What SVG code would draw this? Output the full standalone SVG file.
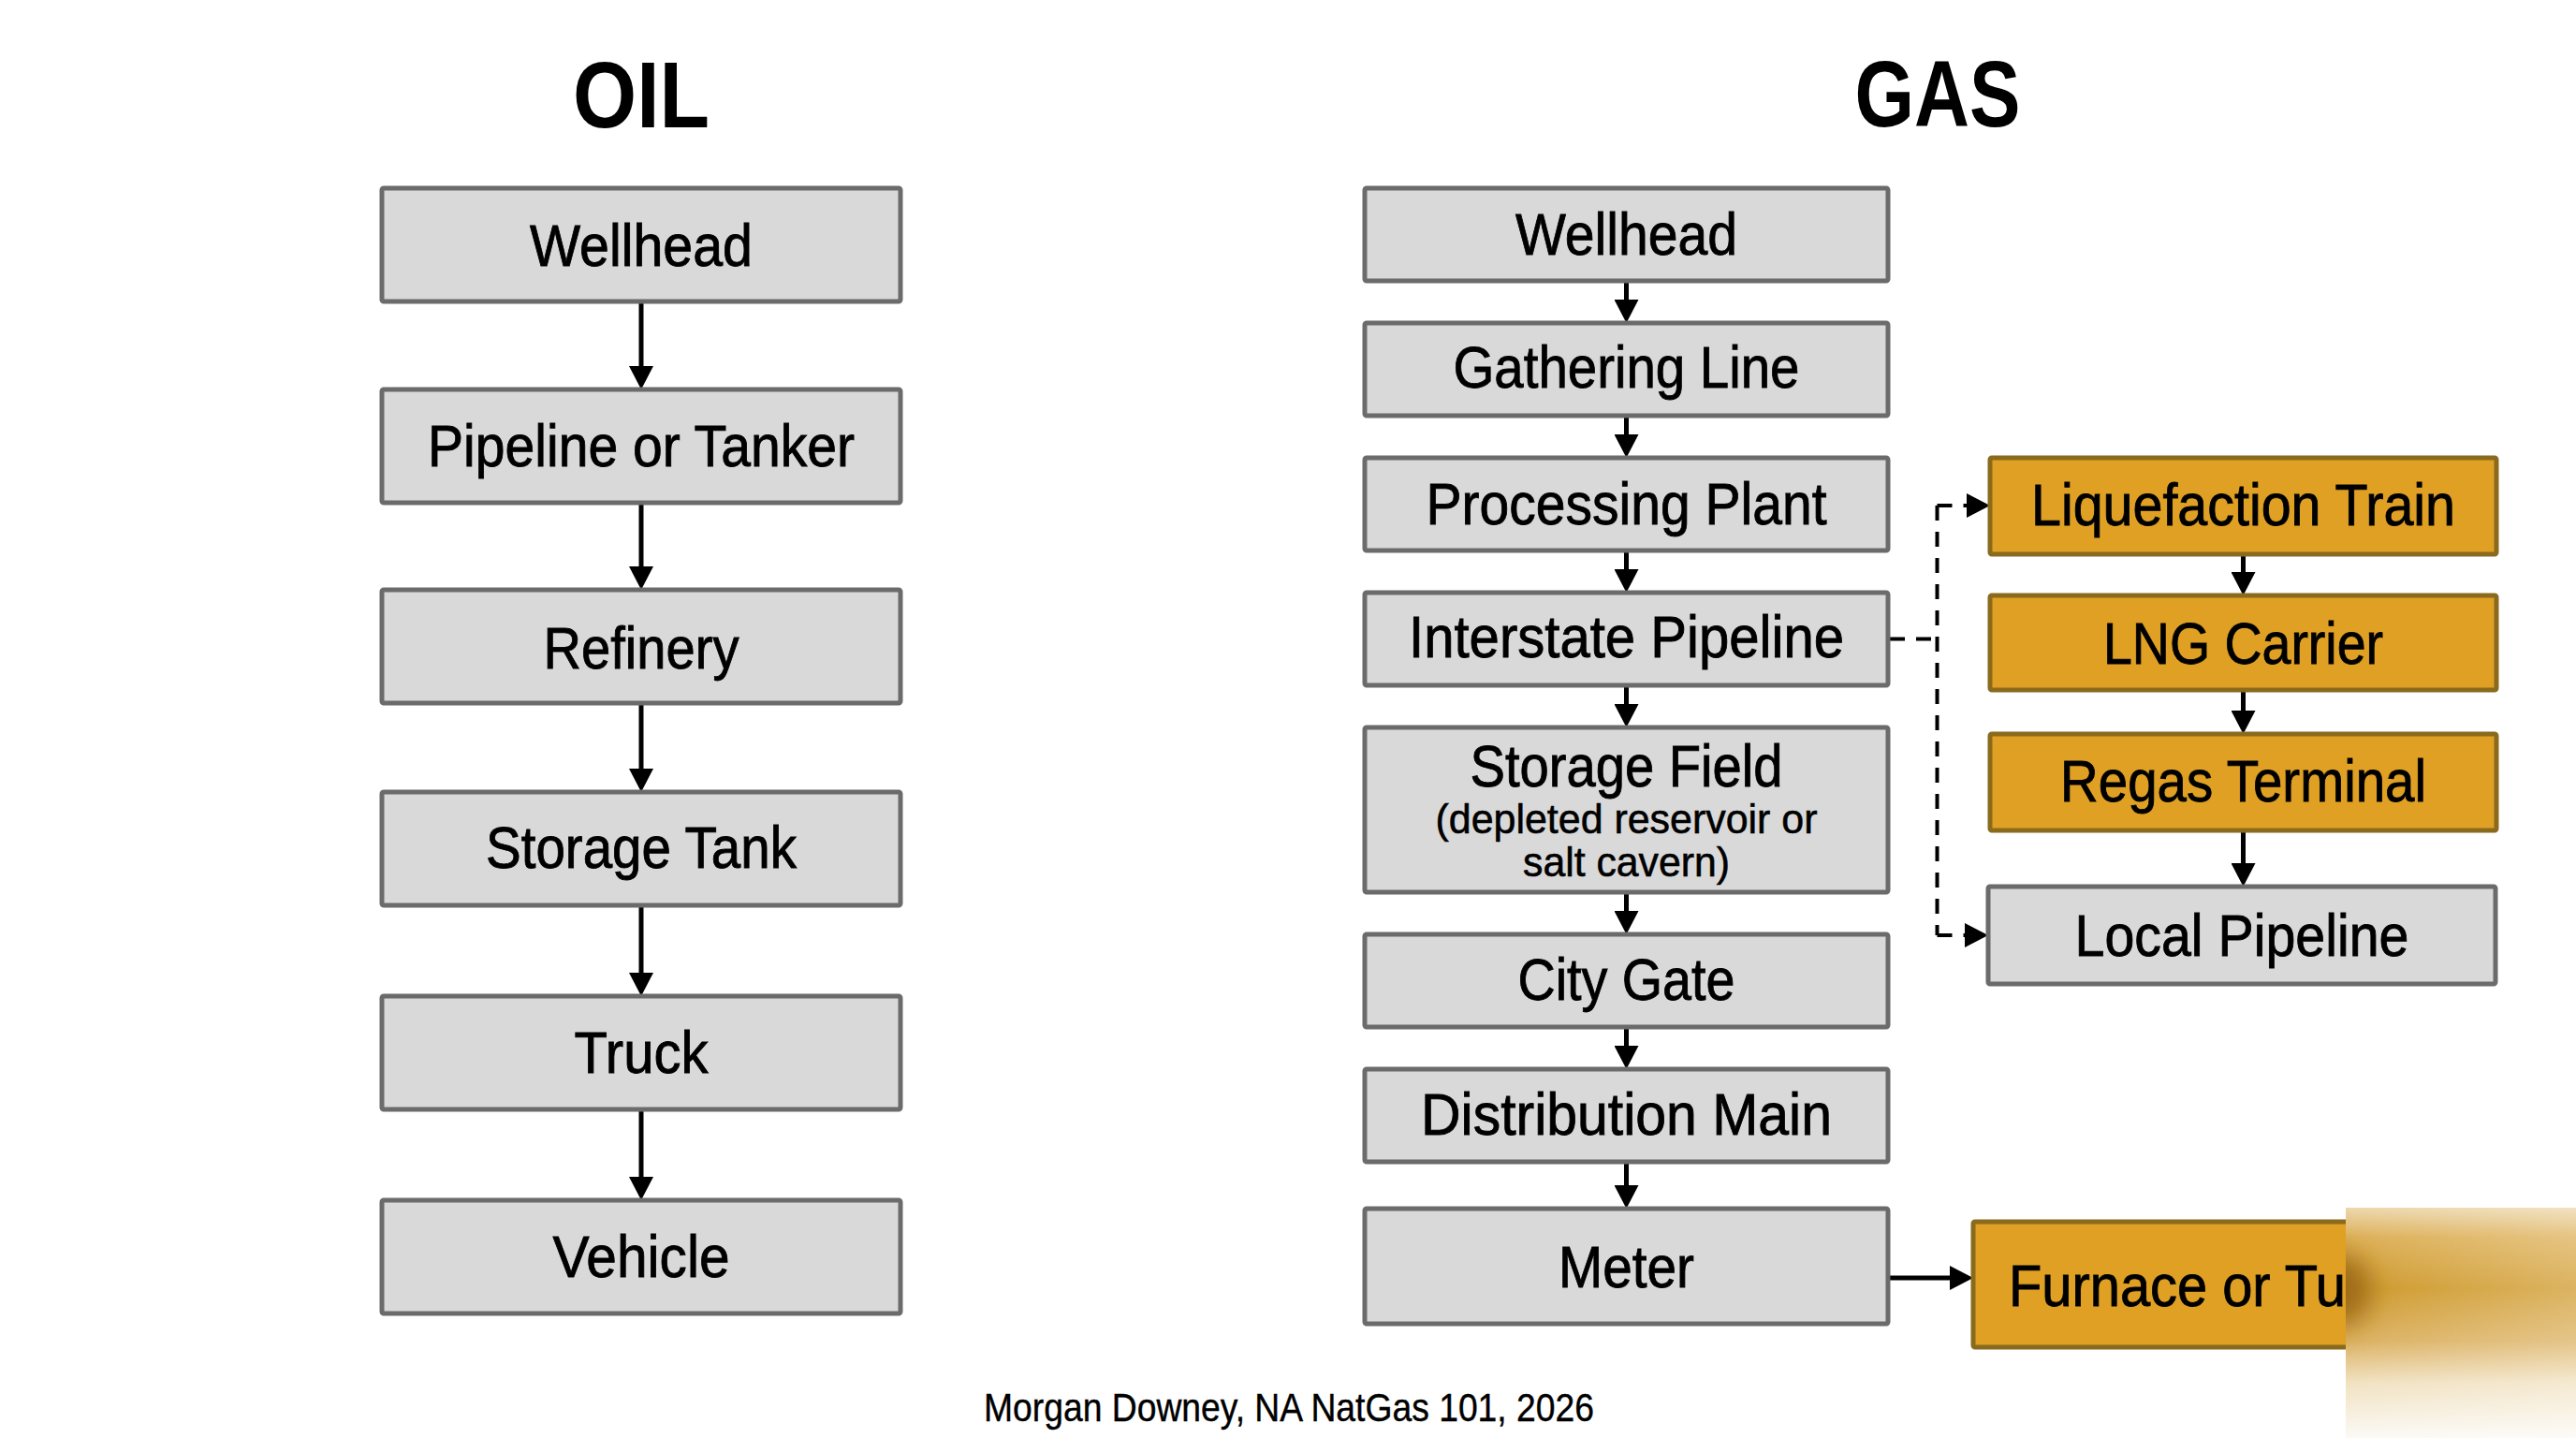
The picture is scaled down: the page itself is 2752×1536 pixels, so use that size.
<svg xmlns="http://www.w3.org/2000/svg" width="2752" height="1536" viewBox="0 0 2752 1536">
<style>
.box{fill:#D9D9D9;stroke:#6B6B6B;stroke-width:5}
.gold{fill:#DFA024;stroke:#8A6A1C;stroke-width:5}
.lbl{font-family:"Liberation Sans",Arial,sans-serif;font-size:63px;fill:#000;stroke:#000;stroke-width:0.9;text-anchor:middle}
.sub{font-size:44px;stroke-width:0.6}
.title{font-family:"Liberation Sans",Arial,sans-serif;font-weight:bold;font-size:101px;fill:#000;text-anchor:middle}
.foot{font-family:"Liberation Sans",Arial,sans-serif;font-size:42px;fill:#000;stroke:#000;stroke-width:0.4}
.arr{stroke:#000;stroke-width:5;fill:none;marker-end:url(#ah)}
.dash{stroke:#000;stroke-width:4;fill:none;stroke-dasharray:16 12}
</style>
<defs>
<marker id="ah" viewBox="0 0 25 26" refX="2" refY="13" markerWidth="25" markerHeight="26" markerUnits="userSpaceOnUse" orient="auto"><path d="M0,0 L25,13 L0,26 Z" fill="#000"/></marker>
<clipPath id="smclip"><rect x="2506" y="1290" width="246" height="246"/></clipPath>
<linearGradient id="smv" x1="0" y1="1290" x2="0" y2="1536" gradientUnits="userSpaceOnUse">
<stop offset="0" stop-color="#EDD8AE"/>
<stop offset="0.13" stop-color="#DDB058"/>
<stop offset="0.35" stop-color="#CF9A2C"/>
<stop offset="0.58" stop-color="#DCB263"/>
<stop offset="0.76" stop-color="#F1E2C2"/>
<stop offset="1" stop-color="#FCFAF6"/>
</linearGradient>
<linearGradient id="smh" x1="2506" y1="0" x2="2752" y2="0" gradientUnits="userSpaceOnUse">
<stop offset="0" stop-color="#FFFFFF" stop-opacity="0"/>
<stop offset="1" stop-color="#FFFFFF" stop-opacity="0.25"/>
</linearGradient>
<filter id="bl2" x="-100%" y="-100%" width="300%" height="300%"><feGaussianBlur stdDeviation="14"/></filter>
</defs>
<rect x="0" y="0" width="2752" height="1536" fill="#FFFFFF"/>

<text class="title" x="685" y="136" textLength="146" lengthAdjust="spacingAndGlyphs">OIL</text>
<text class="title" x="2070" y="135" textLength="177" lengthAdjust="spacingAndGlyphs">GAS</text>

<g id="connectors">
<path class="arr" d="M685,322 V393"/>
<path class="arr" d="M685,537 V607"/>
<path class="arr" d="M685,751 V823"/>
<path class="arr" d="M685,967 V1041"/>
<path class="arr" d="M685,1185 V1259"/>
<path class="arr" d="M1737.5,300 V322"/>
<path class="arr" d="M1737.5,444 V466"/>
<path class="arr" d="M1737.5,588 V610"/>
<path class="arr" d="M1737.5,732 V754"/>
<path class="arr" d="M1737.5,953 V975"/>
<path class="arr" d="M1737.5,1097 V1119"/>
<path class="arr" d="M1737.5,1241 V1268"/>
<path class="arr" d="M2396.5,592 V613"/>
<path class="arr" d="M2396.5,737 V761"/>
<path class="arr" d="M2396.5,887 V924"/>
<path class="arr" d="M2017,1365 H2085"/>
<path class="dash" d="M2019,682.5 H2069.5"/>
<path class="dash" d="M2069.5,540 V999"/>
<path class="dash" d="M2069.5,540 H2103" marker-end="url(#ah)"/>
<path class="dash" d="M2069.5,999 H2101" marker-end="url(#ah)"/>
</g>

<g id="oil-wellhead"><rect class="box" x="408" y="201" width="554" height="121" rx="2"/><text class="lbl" x="685" y="284" textLength="238" lengthAdjust="spacingAndGlyphs">Wellhead</text></g>
<g id="oil-pipeline"><rect class="box" x="408" y="416" width="554" height="121" rx="2"/><text class="lbl" x="685" y="498" textLength="456" lengthAdjust="spacingAndGlyphs">Pipeline or Tanker</text></g>
<g id="oil-refinery"><rect class="box" x="408" y="630" width="554" height="121" rx="2"/><text class="lbl" x="685" y="714" textLength="209" lengthAdjust="spacingAndGlyphs">Refinery</text></g>
<g id="oil-storage"><rect class="box" x="408" y="846" width="554" height="121" rx="2"/><text class="lbl" x="685" y="927" textLength="332" lengthAdjust="spacingAndGlyphs">Storage Tank</text></g>
<g id="oil-truck"><rect class="box" x="408" y="1064" width="554" height="121" rx="2"/><text class="lbl" x="685" y="1146" textLength="143" lengthAdjust="spacingAndGlyphs">Truck</text></g>
<g id="oil-vehicle"><rect class="box" x="408" y="1282" width="554" height="121" rx="2"/><text class="lbl" x="685" y="1364" textLength="189" lengthAdjust="spacingAndGlyphs">Vehicle</text></g>

<g id="gas-wellhead"><rect class="box" x="1458" y="201" width="559" height="99" rx="2"/><text class="lbl" x="1737.5" y="272" textLength="237" lengthAdjust="spacingAndGlyphs">Wellhead</text></g>
<g id="gas-gathering"><rect class="box" x="1458" y="345" width="559" height="99" rx="2"/><text class="lbl" x="1737.5" y="414" textLength="370" lengthAdjust="spacingAndGlyphs">Gathering Line</text></g>
<g id="gas-processing"><rect class="box" x="1458" y="489" width="559" height="99" rx="2"/><text class="lbl" x="1737.5" y="560" textLength="428" lengthAdjust="spacingAndGlyphs">Processing Plant</text></g>
<g id="gas-interstate"><rect class="box" x="1458" y="633" width="559" height="99" rx="2"/><text class="lbl" x="1737.5" y="702" textLength="465" lengthAdjust="spacingAndGlyphs">Interstate Pipeline</text></g>
<g id="gas-storage"><rect class="box" x="1458" y="777" width="559" height="176" rx="2"/><text class="lbl" x="1737.5" y="840" textLength="334" lengthAdjust="spacingAndGlyphs">Storage Field</text><text class="lbl sub" x="1737.5" y="890" textLength="408" lengthAdjust="spacingAndGlyphs">(depleted reservoir or</text><text class="lbl sub" x="1737.5" y="936" textLength="221" lengthAdjust="spacingAndGlyphs">salt cavern)</text></g>
<g id="gas-citygate"><rect class="box" x="1458" y="998" width="559" height="99" rx="2"/><text class="lbl" x="1737.5" y="1068" textLength="232" lengthAdjust="spacingAndGlyphs">City Gate</text></g>
<g id="gas-distribution"><rect class="box" x="1458" y="1142" width="559" height="99" rx="2"/><text class="lbl" x="1737.5" y="1212" textLength="439" lengthAdjust="spacingAndGlyphs">Distribution Main</text></g>
<g id="gas-meter"><rect class="box" x="1458" y="1291" width="559" height="123" rx="2"/><text class="lbl" x="1737.5" y="1375" textLength="145" lengthAdjust="spacingAndGlyphs">Meter</text></g>

<g id="lng-liquefaction"><rect class="gold" x="2126" y="489" width="541" height="103" rx="2"/><text class="lbl" x="2396.5" y="561" textLength="453" lengthAdjust="spacingAndGlyphs">Liquefaction Train</text></g>
<g id="lng-carrier"><rect class="gold" x="2126" y="636" width="541" height="101" rx="2"/><text class="lbl" x="2396.5" y="709" textLength="299" lengthAdjust="spacingAndGlyphs">LNG Carrier</text></g>
<g id="lng-regas"><rect class="gold" x="2126" y="784" width="541" height="103" rx="2"/><text class="lbl" x="2396.5" y="856" textLength="391" lengthAdjust="spacingAndGlyphs">Regas Terminal</text></g>
<g id="local-pipeline"><rect class="box" x="2124" y="947" width="542" height="104" rx="2"/><text class="lbl" x="2395" y="1021" textLength="357" lengthAdjust="spacingAndGlyphs">Local Pipeline</text></g>

<g id="furnace"><rect class="gold" x="2108" y="1305" width="560" height="134" rx="2"/><text class="lbl" x="2146" y="1395" style="text-anchor:start" textLength="360" lengthAdjust="spacingAndGlyphs">Furnace or Tu</text></g>

<g clip-path="url(#smclip)">
<rect x="2506" y="1290" width="246" height="246" fill="url(#smv)"/>
<rect x="2506" y="1290" width="246" height="246" fill="url(#smh)"/>
<ellipse cx="2500" cy="1378" rx="32" ry="38" fill="#9E6A18" filter="url(#bl2)"/>
</g>

<text class="foot" x="1051" y="1518" textLength="652" lengthAdjust="spacingAndGlyphs">Morgan Downey, NA NatGas 101, 2026</text>
</svg>
